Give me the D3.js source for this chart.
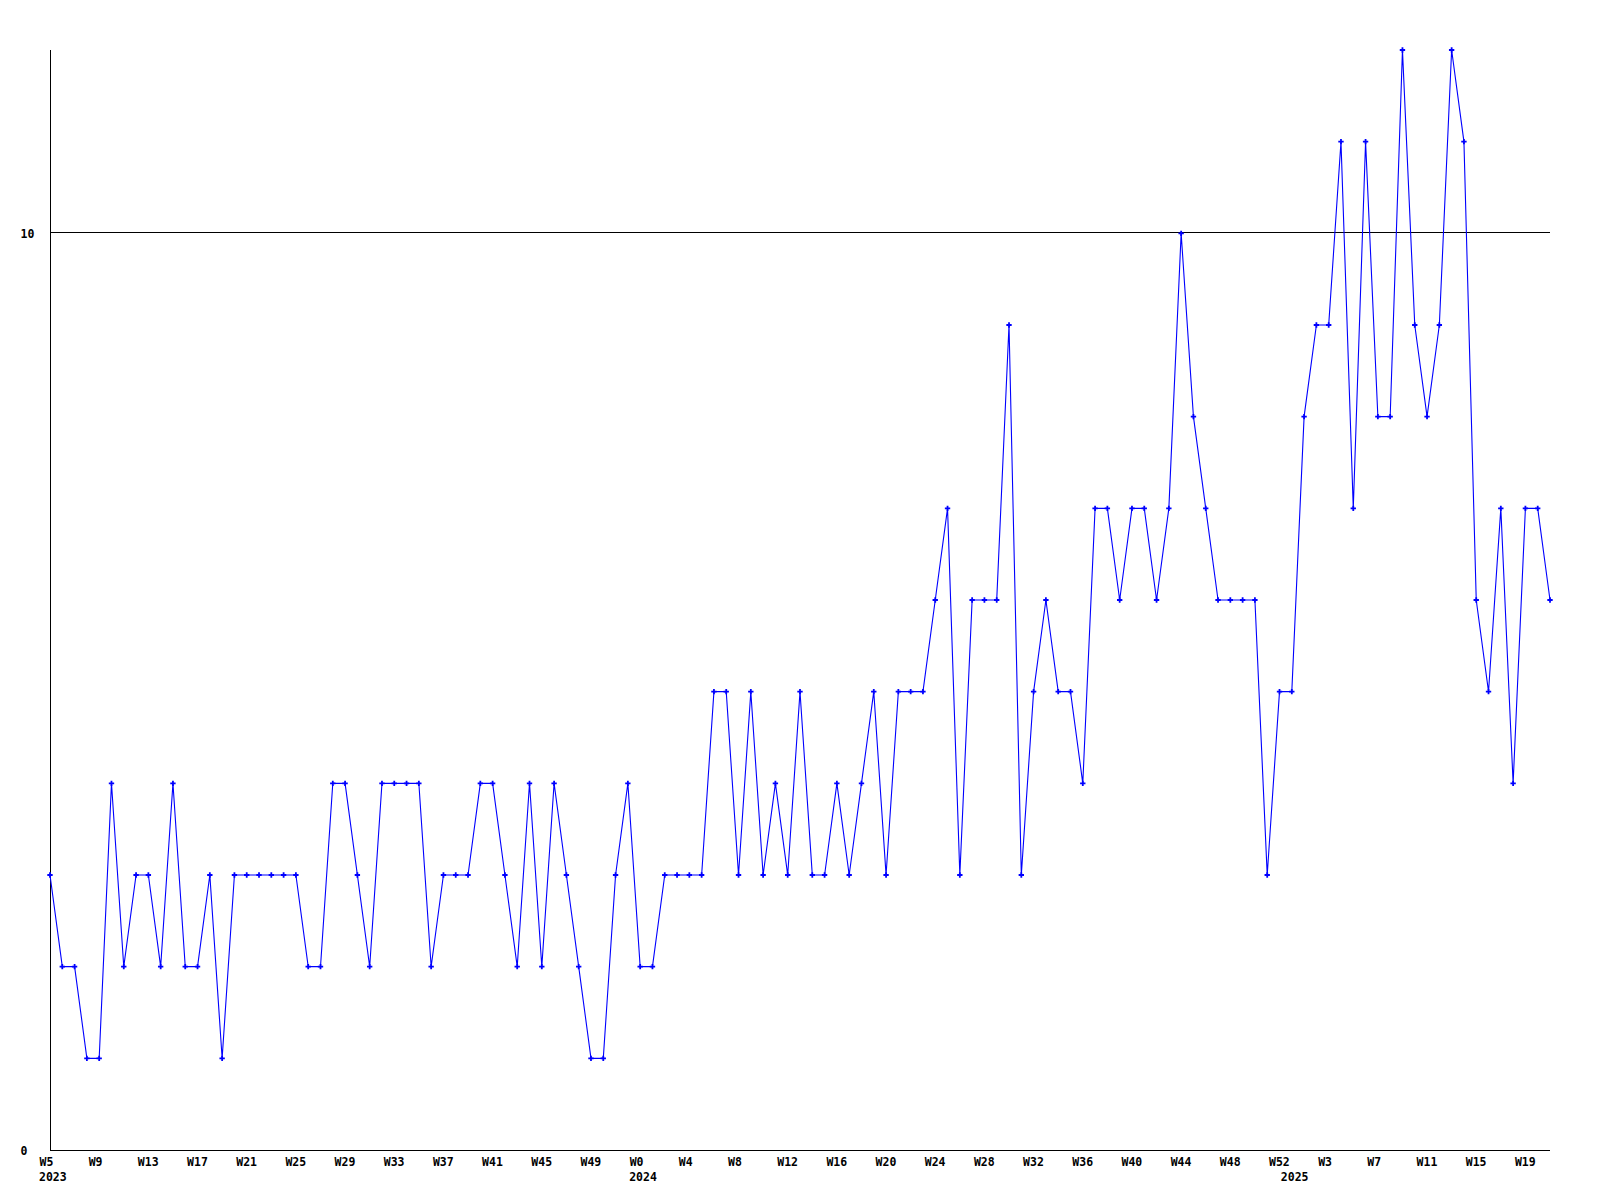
<!DOCTYPE html>
<html>
<head>
<meta charset="utf-8">
<script src="https://cdn.jsdelivr.net/npm/d3@7"></script>
<style>
  html, body { margin: 0; padding: 0; background: #ffffff; }
  svg { display: block; }
  text { font-family: "DejaVu Sans Mono", "Liberation Mono", monospace; font-weight: bold; font-size: 11.5px; fill: #000; }
</style>
</head>
<body>
<svg id="chart" width="1600" height="1200"></svg>
<script>
// ---- Data ----
const weeks = [
  "2023-W5","2023-W6","2023-W7","2023-W8","2023-W9","2023-W10","2023-W11","2023-W12","2023-W13","2023-W14",
  "2023-W15","2023-W16","2023-W17","2023-W18","2023-W19","2023-W20","2023-W21","2023-W22","2023-W23","2023-W24",
  "2023-W25","2023-W26","2023-W27","2023-W28","2023-W29","2023-W30","2023-W31","2023-W32","2023-W33","2023-W34",
  "2023-W35","2023-W36","2023-W37","2023-W38","2023-W39","2023-W40","2023-W41","2023-W42","2023-W43","2023-W44",
  "2023-W45","2023-W46","2023-W47","2023-W48","2023-W49","2023-W50","2023-W51","2023-W52",
  "2024-W0","2024-W1","2024-W2","2024-W3","2024-W4","2024-W5","2024-W6","2024-W7","2024-W8","2024-W9",
  "2024-W10","2024-W11","2024-W12","2024-W13","2024-W14","2024-W15","2024-W16","2024-W17","2024-W18","2024-W19",
  "2024-W20","2024-W21","2024-W22","2024-W23","2024-W24","2024-W25","2024-W26","2024-W27","2024-W28","2024-W29",
  "2024-W30","2024-W31","2024-W32","2024-W33","2024-W34","2024-W35","2024-W36","2024-W37","2024-W38","2024-W39",
  "2024-W40","2024-W41","2024-W42","2024-W43","2024-W44","2024-W45","2024-W46","2024-W47","2024-W48","2024-W49",
  "2024-W50","2024-W51","2024-W52",
  "2025-W0","2025-W1","2025-W2","2025-W3","2025-W4","2025-W5","2025-W6","2025-W7","2025-W8","2025-W9",
  "2025-W10","2025-W11","2025-W12","2025-W13","2025-W14","2025-W15","2025-W16","2025-W17","2025-W18","2025-W19",
  "2025-W20","2025-W21"
];

const values = [
  3,2,2,1,1,4,2,3,3,2,
  4,2,2,3,1,3,3,3,3,3,
  3,2,2,4,4,3,2,4,4,4,
  4,2,3,3,3,4,4,3,2,4,
  2,4,3,2,1,1,3,4,
  2,2,3,3,3,3,5,5,3,5,
  3,4,3,5,3,3,4,3,4,5,
  3,5,5,5,6,7,3,6,6,6,
  9,3,5,6,5,5,4,7,7,6,
  7,7,6,7,10,8,7,6,6,6,
  6,3,5,
  5,8,9,9,11,7,11,8,8,12,
  9,8,9,12,11,6,5,7,4,7,
  7,6
];

const yTicks = [0, 10];
const yGridLines = [10];
const xTickEvery = 4;

// ---- Layout ----
const plotLeft = 50, plotRight = 1550, plotTop = 50, plotBottom = 1150;

const svg = d3.select("#chart");

const x = d3.scalePoint().domain(weeks).range([plotLeft, plotRight]).padding(0);
const y = d3.scaleLinear().domain([0, 12]).range([plotBottom, plotTop]);

// gridline(s)
svg.append("g").selectAll("line").data(yGridLines).join("line")
  .attr("x1", plotLeft).attr("x2", plotRight)
  .attr("y1", d => Math.round(y(d)) - 0.5).attr("y2", d => Math.round(y(d)) - 0.5)
  .attr("stroke", "#000").attr("stroke-width", 1)
  .attr("shape-rendering", "crispEdges");

// y axis
const yAxis = d3.axisLeft(y).tickValues(yTicks).tickSize(0).tickFormat(d3.format("d"));
const gy = svg.append("g").attr("transform", `translate(${plotLeft + 0.5},0)`).call(yAxis);
gy.attr("font-family", null).attr("font-size", null);
gy.select(".domain").attr("d", `M0,${plotTop}V${plotBottom}`).attr("stroke", "#000").attr("shape-rendering", "crispEdges");
gy.selectAll(".tick text")
  .attr("text-anchor", "start")
  .attr("x", -30)
  .attr("dy", "0.35em");

// x axis
const tickWeeks = weeks.filter((d, i) => i % xTickEvery === 0);
const xAxis = d3.axisBottom(x).tickValues(tickWeeks).tickSize(0).tickFormat(d => d.split("-")[1]);
const gx = svg.append("g").attr("transform", `translate(0,${plotBottom + 0.5})`).call(xAxis);
gx.attr("font-family", null).attr("font-size", null);
gx.select(".domain").attr("d", `M${plotLeft},0H${plotRight}`).attr("stroke", "#000").attr("shape-rendering", "crispEdges");
gx.selectAll(".tick text")
  .attr("text-anchor", "start")
  .attr("x", -11)
  .attr("y", 15)
  .attr("dy", 0);

// year labels under first week of each year
const yearStarts = weeks.filter((d, i) => i === 0 || d.split("-")[0] !== weeks[i - 1].split("-")[0]);
svg.append("g").selectAll("text").data(yearStarts).join("text")
  .attr("x", d => x(d) - 11)
  .attr("y", plotBottom + 31)
  .text(d => d.split("-")[0]);

// line
const line = d3.line().x((d, i) => x(weeks[i])).y(d => y(d));
svg.append("path").datum(values)
  .attr("d", line)
  .attr("fill", "none")
  .attr("stroke", "#0000ff")
  .attr("stroke-width", 1.1);

// markers
const sym = d3.symbol().type(d3.symbolCross).size(16);
svg.append("g").selectAll("path").data(values).join("path")
  .attr("transform", (d, i) => `translate(${x(weeks[i])},${y(d)})`)
  .attr("d", sym)
  .attr("fill", "#0000ff");
</script>
</body>
</html>
